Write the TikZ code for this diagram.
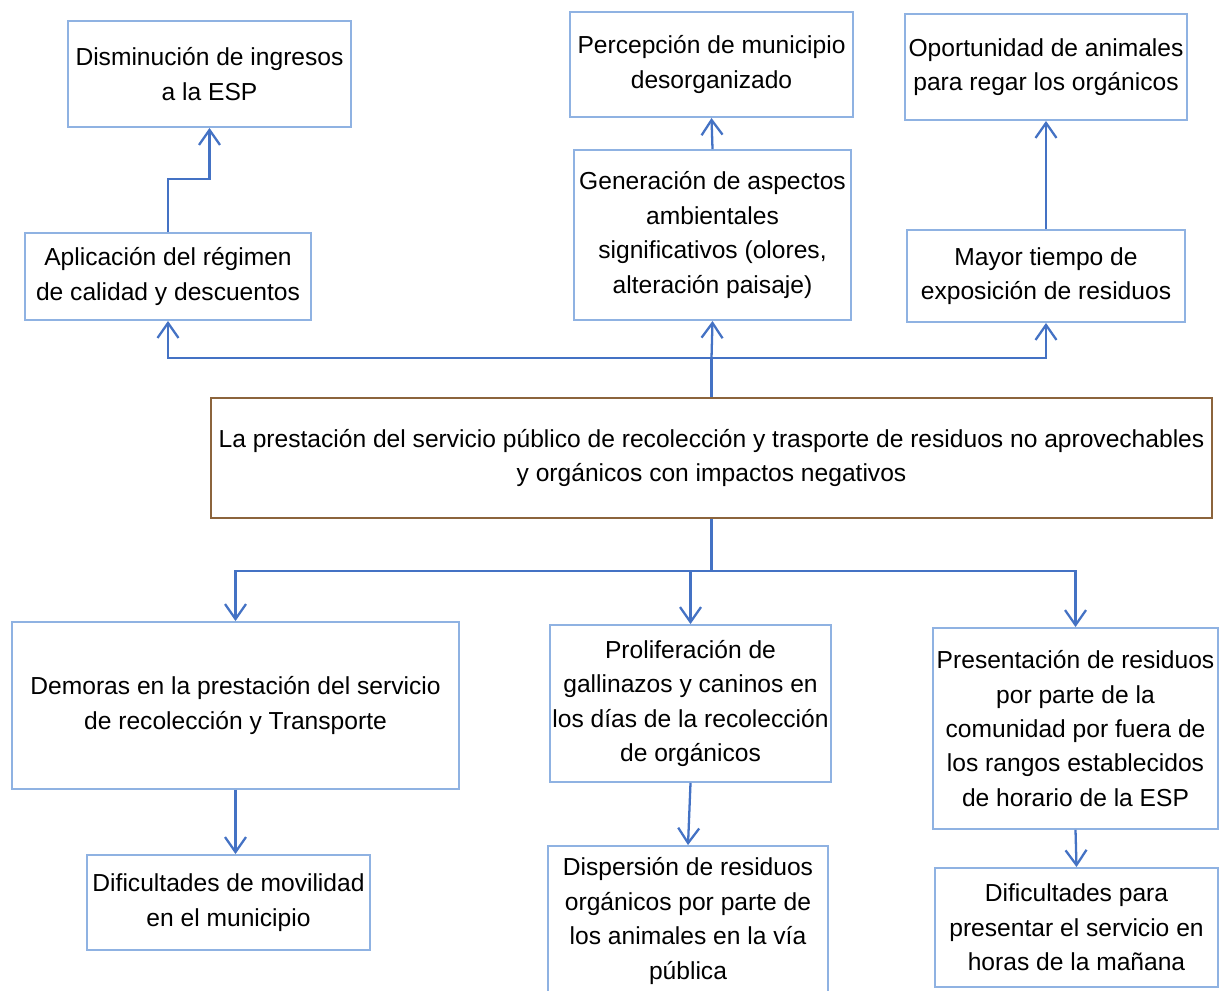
\documentclass[tikz,border=0pt]{standalone}
\usepackage{fontspec}
\setmainfont{Liberation Sans}
\usetikzlibrary{arrows.meta}
\definecolor{boxblue}{RGB}{143,178,226}
\definecolor{boxbrown}{RGB}{140,100,60}
\definecolor{lineblue}{RGB}{68,114,196}

\begin{document}
\begin{tikzpicture}[x=0.02cm, y=-0.02cm,
  main/.style = {draw=boxblue, line width=1.1pt, align=center, inner sep=0pt,
    font=\fontsize{14}{19.6}\selectfont},
  central/.style = {main, draw=boxbrown},
  link/.style = {draw=lineblue, line width=1.3pt},
  >={Straight Barb[length=3mm, width=4.2mm]}]
        \useasboundingbox (0,0) rectangle (1219,990);
        % efectos de arriba
        \node[main, minimum width=5.66cm, minimum height=2.12cm] (1) at (209.5,74) {Disminución de ingresos\\a la ESP};
        \node[main, minimum width=5.72cm, minimum height=1.74cm] (2) at (168,276.5) {Aplicación del régimen\\de calidad y descuentos};
        \node[main, minimum width=5.66cm, minimum height=2.10cm] (3) at (711.5,64.5) {Percepción de municipio\\desorganizado};
        \node[main, minimum width=5.54cm, minimum height=3.40cm] (4) at (712.5,235) {Generación de aspectos\\ambientales\\significativos (olores,\\alteración paisaje)};
        \node[main, minimum width=5.64cm, minimum height=2.12cm] (5) at (1046,67) {Oportunidad de animales\\para regar los orgánicos};
        \node[main, minimum width=5.56cm, minimum height=1.84cm] (6) at (1046,276) {Mayor tiempo de\\exposición de residuos};
        % problema central
        \node[central, minimum width=20.02cm, minimum height=2.40cm] (7) at (711.5,458) {La prestación del servicio público de recolección y trasporte de residuos no aprovechables\\y orgánicos con impactos negativos};
        % efectos de abajo
        \node[main, minimum width=8.94cm, minimum height=3.34cm] (8) at (235.5,705.5) {Demoras en la prestación del servicio\\de recolección y Transporte};
        \node[main, minimum width=5.66cm, minimum height=1.90cm] (9) at (228.5,902.5) {Dificultades de movilidad\\en el municipio};
        \node[main, minimum width=5.62cm, minimum height=3.14cm] (10) at (690.5,703.5) {Proliferación de\\gallinazos y caninos en\\los días de la recolección\\de orgánicos};
        \node[main, minimum width=5.60cm, minimum height=3.00cm] (11) at (688,921) {Dispersión de residuos\\orgánicos por parte de\\los animales en la vía\\pública};
        \node[main, minimum width=5.70cm, minimum height=4.02cm] (12) at (1075.5,728.5) {Presentación de residuos\\por parte de la\\comunidad por fuera de\\los rangos establecidos\\de horario de la ESP};
        \node[main, minimum width=5.66cm, minimum height=2.38cm] (13) at (1076.5,927.5) {Dificultades para\\presentar el servicio en\\horas de la mañana};
        \coordinate (tb) at (711.5,358);
        \coordinate (bb) at (711.5,571);
        \draw[link] (7.north) -- (tb);
        \draw[link, ->] (tb) -| (2.south);
        \draw[link, ->] (tb) -- (4.south);
        \draw[link, ->] (tb) -| (6.south);
        \draw[link, ->] (2.north) -- ++(0,-53) -| (1.south);
        \draw[link, ->] (4.north) -- (3.south);
        \draw[link, ->] (6.north) -- (5.south);
        \draw[link] (7.south) -- (bb);
        \draw[link, ->] (bb) -| (8.north);
        \draw[link, ->] (bb) -| (10.north);
        \draw[link, ->] (bb) -| (12.north);
        \draw[link, ->] (8.south) -- (8.south |- 9.north);
        \draw[link, ->] (10.south) -- (11.north);
        \draw[link, ->] (12.south) -- (13.north);
\end{tikzpicture}
\end{document}
